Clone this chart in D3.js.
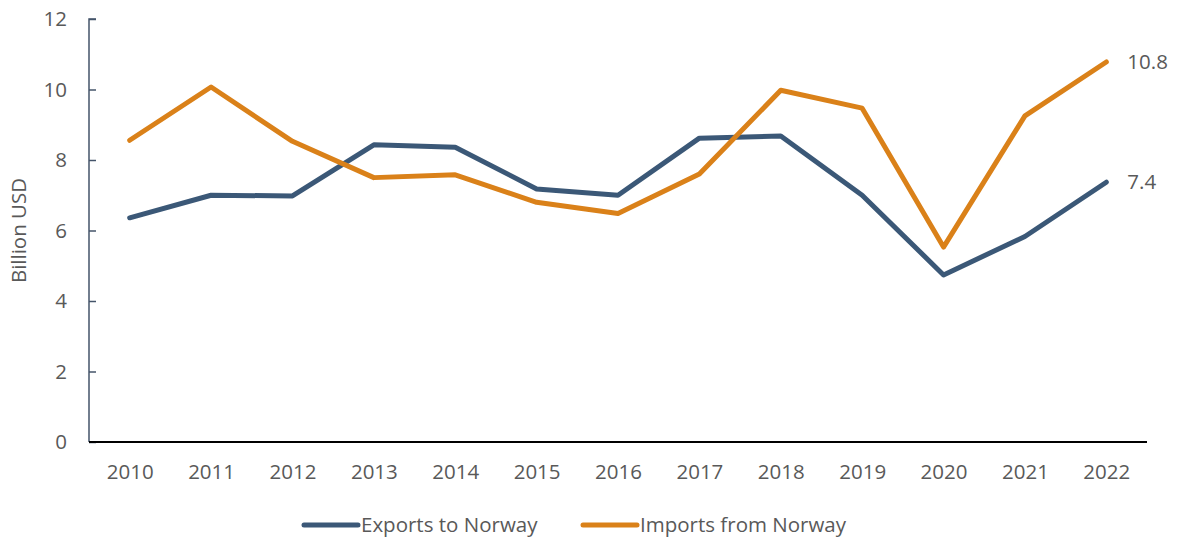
<!DOCTYPE html>
<html>
<head>
<meta charset="utf-8">
<script src="https://cdn.jsdelivr.net/npm/d3@7"></script>
<style>
  body { margin: 0; background: #fff; }
  text { font-family: "Open Sans", "Liberation Sans", sans-serif; fill: #595959; }
</style>
</head>
<body>
<div id="chart"></div>
<script>
let years = ["2010", "2011", "2012", "2013", "2014", "2015", "2016", "2017", "2018", "2019", "2020", "2021", "2022"];
let exports = [6.36, 7.0, 6.98, 8.43, 8.36, 7.18, 7.0, 8.62, 8.68, 7.0, 4.74, 5.83, 7.37];
let imports = [8.56, 10.07, 8.53, 7.5, 7.58, 6.8, 6.48, 7.6, 9.98, 9.47, 5.53, 9.25, 10.78];
let yTicks = [0, 2, 4, 6, 8, 10, 12];
let seriesNames = ["Exports to Norway", "Imports from Norway"];
let colors = ["#3B5877", "#DA8119"];

let fontSize = 20.5;

let dimension = {
    width: 1178,
    height: 539,
    margin: { top: 19, left: 89, right: 31, bottom: 97 }
};

let svg = d3.select("#chart")
    .append("svg")
    .attr("width", dimension.width)
    .attr("height", dimension.height);

let X = d3.scalePoint()
    .domain(years)
    .range([dimension.margin.left, dimension.width - dimension.margin.right])
    .padding(0.5);

let Y = d3.scaleLinear()
    .domain([0, 12])
    .range([dimension.height - dimension.margin.bottom, dimension.margin.top]);

// y axis
let yAxis = svg.append("g")
    .attr("transform", "translate(" + dimension.margin.left + ",0)")
    .call(d3.axisRight(Y).tickValues(yTicks).tickSize(7).tickFormat(d3.format("d")));
yAxis.select(".domain").attr("stroke", "#44546A").attr("stroke-width", 1.5)
    .attr("d", "M0," + Y(0) + "V" + Y(12) + "h7");
yAxis.selectAll(".tick line").attr("stroke", "#44546A").attr("stroke-width", 1.5);
yAxis.selectAll(".tick text")
    .attr("x", -22)
    .attr("text-anchor", "end")
    .attr("font-size", fontSize)
    .style("font-family", "'Open Sans', sans-serif")
    .attr("fill", "#595959");

// x axis
let xAxis = svg.append("g")
    .attr("transform", "translate(0," + Y(0) + ")")
    .call(d3.axisBottom(X).tickSize(0).tickPadding(22));
xAxis.select(".domain").attr("stroke", "#000").attr("stroke-width", 2)
    .attr("d", "M" + dimension.margin.left + ",0H" + (dimension.width - dimension.margin.right));
xAxis.selectAll(".tick text")
    .attr("font-size", fontSize)
    .style("font-family", "'Open Sans', sans-serif")
    .attr("fill", "#595959");

// axis title
svg.append("text")
    .attr("transform", "translate(26," + ((Y(0) + Y(12)) / 2) + ") rotate(-90)")
    .attr("text-anchor", "middle")
    .attr("font-size", fontSize)
    .text("Billion USD");

let line = d3.line()
    .x((d, i) => X(years[i]))
    .y(d => Y(d));

[exports, imports].forEach((s, k) => {
    svg.append("path")
        .datum(s)
        .attr("fill", "none")
        .attr("stroke", colors[k])
        .attr("stroke-width", 5)
        .attr("stroke-linecap", "round")
        .attr("stroke-linejoin", "round")
        .attr("d", line);

    let last = s[s.length - 1];
    svg.append("text")
        .attr("x", X(years[years.length - 1]) + 21)
        .attr("y", Y(last))
        .attr("dy", "0.35em")
        .attr("font-size", fontSize)
        .text(d3.format(".1f")(last));
});

// legend
let legendX = [304, 583];
seriesNames.forEach((name, k) => {
    let g = svg.append("g").attr("transform", "translate(" + legendX[k] + ",525)");
    g.append("line")
        .attr("x1", 0).attr("x2", 54)
        .attr("stroke", colors[k])
        .attr("stroke-width", 5)
        .attr("stroke-linecap", "round");
    g.append("text")
        .attr("x", 57)
        .attr("dy", "0.35em")
        .attr("font-size", fontSize)
        .text(name);
});
</script>
</body>
</html>
